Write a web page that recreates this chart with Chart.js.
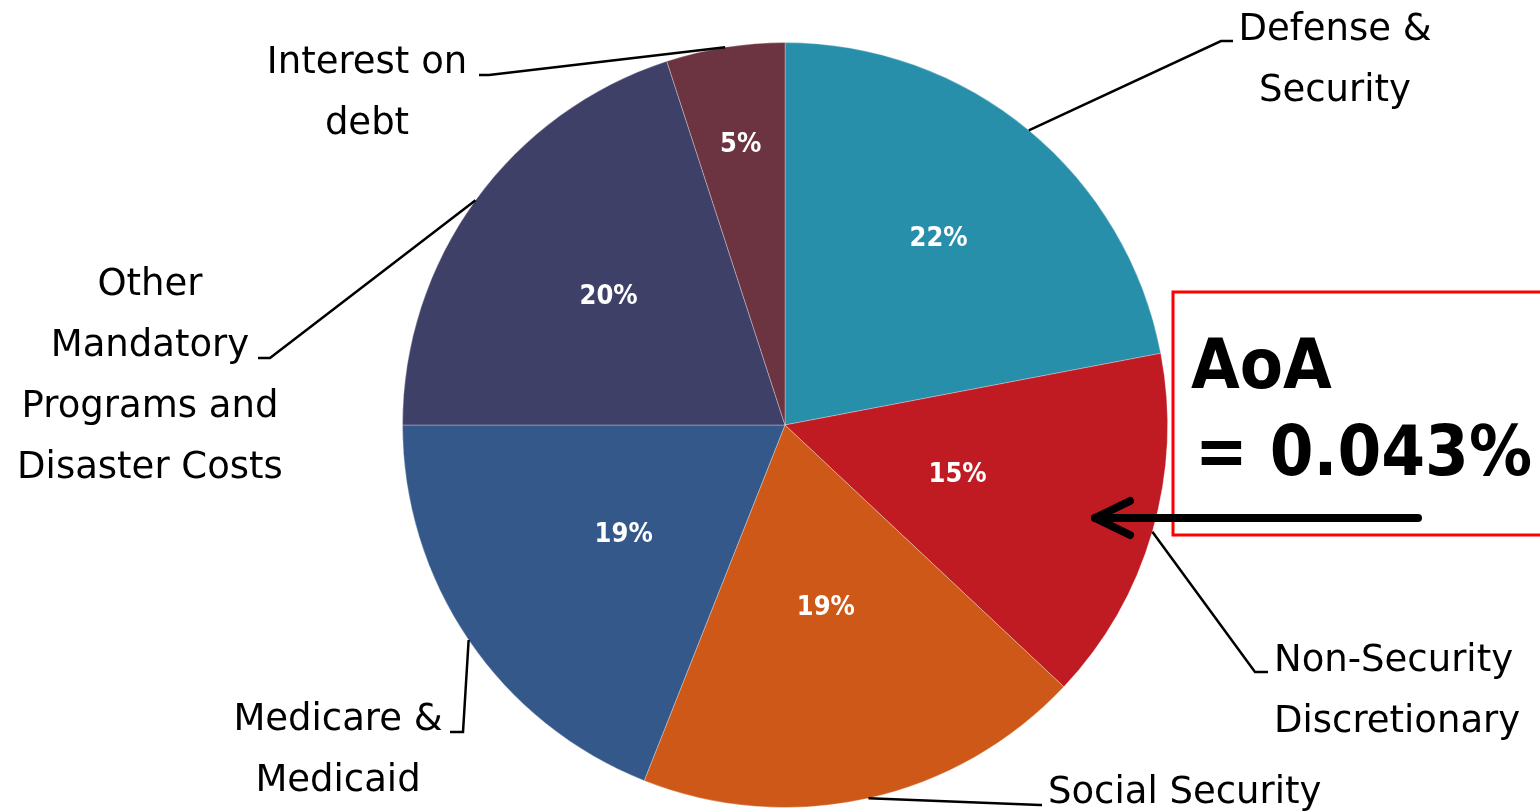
<!DOCTYPE html>
<html>
<head>
<meta charset="utf-8">
<title>Budget shares</title>
<script src="https://cdn.jsdelivr.net/npm/chart.js@4.4.1/dist/chart.umd.min.js"></script>
<style>
    html, body { margin: 0; padding: 0; background: #fff; }
    #wrap { width: 1540px; height: 812px; position: relative; }
</style>
</head>
<body>
<div id="wrap"><canvas id="budgetPie"></canvas></div>
<script>
// Data
const categories = ['Defense & Security', 'Non-Security Discretionary', 'Social Security',
    'Medicare & Medicaid', 'Other Mandatory Programs and Disaster Costs', 'Interest on debt'];
const labelLines = [
    ['Defense &', 'Security'],
    ['Non-Security', 'Discretionary'],
    ['Social Security'],
    ['Medicare &', 'Medicaid'],
    ['Other', 'Mandatory', 'Programs and', 'Disaster Costs'],
    ['Interest on', 'debt']
];
const shares = [22, 15, 19, 19, 20, 5];
const calloutLines = ['AoA', '= 0.043%'];

const sliceColors = ['#288FAA', '#C01A22', '#CE5817', '#345889', '#3F4068', '#6C3440'];

// where each outside label sits, as px offsets from the pie centre
const labelPlacement = [
    { elbow: [436, -384], tick: [448, -384], text: [550, -385], align: 'center' },
    { elbow: [470, 247], tick: [483, 247], text: [489, 246], align: 'left' },
    { elbow: [255, 380], tick: [257, 380], text: [263, 378], align: 'left' },
    { elbow: [-322, 307], tick: [-335, 307], text: [-447, 305], align: 'center' },
    { elbow: [-515, -67], tick: [-527, -67], text: [-635, -130], align: 'center' },
    { elbow: [-296, -350], tick: [-306, -350], text: [-418, -352], align: 'center' }
];
// radial position of the % labels (fraction of radius)
const pctRadius = [0.63, 0.47, 0.49, 0.51, 0.57, 0.74];

const LABEL_FONT = '37px "DejaVu Sans", sans-serif';
const PCT_FONT = 'bold 27px "DejaVu Sans Condensed", "DejaVu Sans", sans-serif';
const AOA_FONT = 'bold 70px "DejaVu Sans Condensed", "DejaVu Sans", sans-serif';
const LINE_H = 61;

const pieLabels = {
    id: 'pieLabels',
    afterDraw(chart) {
        const ctx = chart.ctx;
        const arcs = chart.getDatasetMeta(0).data;
        if (!arcs.length) return;
        const cx = arcs[0].x, cy = arcs[0].y;

        ctx.save();
        arcs.forEach((arc, i) => {
            const mid = (arc.startAngle + arc.endAngle) / 2;
            const r = arc.outerRadius;

            // percentage inside the slice
            ctx.font = PCT_FONT;
            ctx.fillStyle = '#fff';
            ctx.textAlign = 'center';
            ctx.textBaseline = 'middle';
            ctx.fillText(shares[i] + '%', cx + Math.cos(mid) * r * pctRadius[i], cy + Math.sin(mid) * r * pctRadius[i]);

            // leader line
            const p = labelPlacement[i];
            ctx.strokeStyle = '#000';
            ctx.lineWidth = 2.5;
            ctx.beginPath();
            ctx.moveTo(cx + Math.cos(mid) * r, cy + Math.sin(mid) * r);
            ctx.lineTo(cx + p.elbow[0], cy + p.elbow[1]);
            ctx.lineTo(cx + p.tick[0], cy + p.tick[1]);
            ctx.stroke();

            // category text
            ctx.font = LABEL_FONT;
            ctx.fillStyle = '#000';
            ctx.textAlign = p.align;
            ctx.textBaseline = 'alphabetic';
            labelLines[i].forEach((line, k) => {
                ctx.fillText(line, cx + p.text[0], cy + p.text[1] + k * LINE_H);
            });
        });

        // AoA callout box + arrow
        ctx.strokeStyle = '#FF0000';
        ctx.lineWidth = 3;
        ctx.strokeRect(cx + 388, cy - 133, 400, 243);

        ctx.fillStyle = '#000';
        ctx.font = AOA_FONT;
        ctx.textAlign = 'left';
        ctx.fillText(calloutLines[0], cx + 406, cy - 37);
        ctx.fillText(calloutLines[1], cx + 410, cy + 50);

        ctx.strokeStyle = '#000';
        ctx.lineWidth = 8;
        ctx.lineCap = 'round';
        ctx.lineJoin = 'round';
        ctx.beginPath();
        ctx.moveTo(cx + 633, cy + 93);
        ctx.lineTo(cx + 310, cy + 93);
        ctx.stroke();
        ctx.beginPath();
        ctx.moveTo(cx + 345, cy + 76);
        ctx.lineTo(cx + 310, cy + 93);
        ctx.lineTo(cx + 345, cy + 110);
        ctx.stroke();
        ctx.restore();
    }
};

document.addEventListener('DOMContentLoaded', () => {
    const ctx = document.getElementById('budgetPie').getContext('2d');
    new Chart(ctx, {
        type: 'pie',
        data: {
            labels: categories,
            datasets: [{
                data: shares,
                backgroundColor: sliceColors,
                borderColor: 'rgba(255,255,255,0.3)',
                borderWidth: 1
            }]
        },
        options: {
            responsive: true,
            maintainAspectRatio: false,
            animation: false,
            layout: {
                padding: { top: 42, bottom: 4, left: 30, right: 0 }
            },
            plugins: {
                legend: { display: false },
                tooltip: { enabled: false }
            }
        },
        plugins: [pieLabels]
    });
});
</script>
</body>
</html>
